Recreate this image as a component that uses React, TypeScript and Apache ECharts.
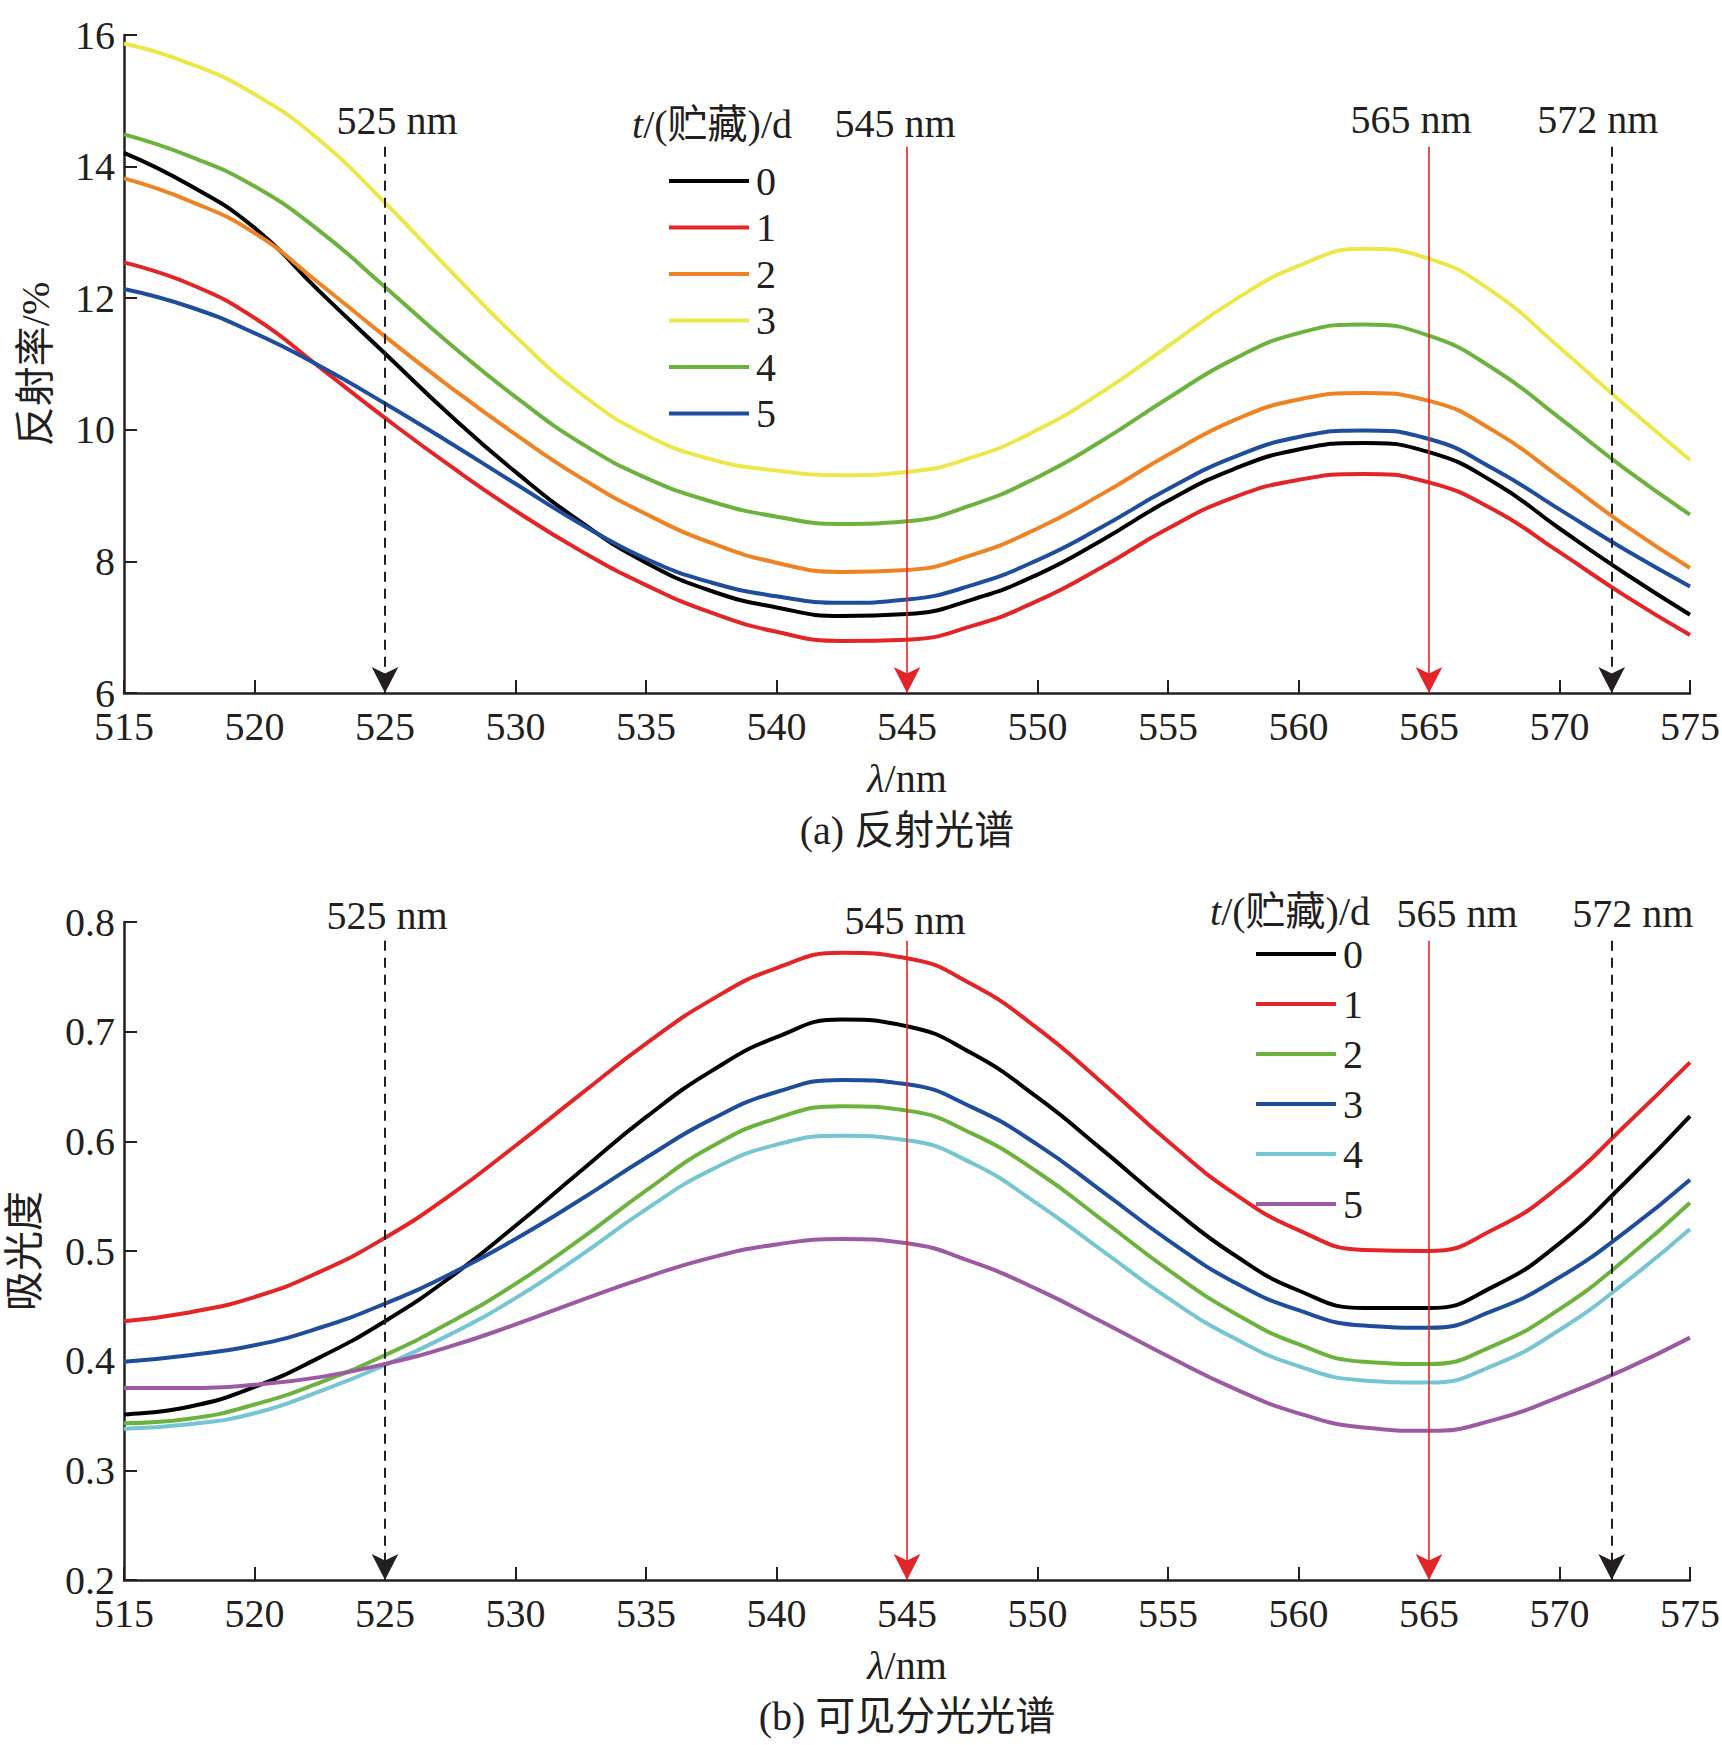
import { useEffect, useRef } from 'react';
import * as echarts from 'echarts';

// wavelength grid shared by both panels (nm)
const WAVELENGTHS = [
  515, 517.5, 520, 522.5, 525, 527.5, 530, 532.5, 535, 537.5, 540, 542.5, 545,
  547.5, 550, 552.5, 555, 557.5, 560, 562.5, 565, 567.5, 570, 572.5, 575,
];

// (a) reflectance, % — storage day 0..5
const REFLECT_D0 = [14.21, 13.72, 13.07, 12.1, 11.16, 10.22, 9.36, 8.6, 7.98, 7.55, 7.3, 7.17, 7.2, 7.42, 7.8, 8.33, 8.92, 9.4, 9.7, 9.8, 9.66, 9.2, 8.5, 7.82, 7.19];
const REFLECT_D1 = [12.54, 12.22, 11.7, 10.95, 10.18, 9.45, 8.77, 8.16, 7.64, 7.22, 6.93, 6.79, 6.81, 7.02, 7.4, 7.92, 8.5, 8.97, 9.24, 9.33, 9.2, 8.78, 8.14, 7.48, 6.88];
const REFLECT_D2 = [13.82, 13.48, 12.99, 12.22, 11.42, 10.65, 9.93, 9.27, 8.72, 8.28, 7.98, 7.84, 7.87, 8.1, 8.5, 9.03, 9.62, 10.14, 10.46, 10.56, 10.44, 9.98, 9.28, 8.55, 7.9];
const REFLECT_D3 = [15.87, 15.57, 15.1, 14.4, 13.45, 12.42, 11.42, 10.55, 9.92, 9.55, 9.38, 9.31, 9.36, 9.58, 10.0, 10.58, 11.27, 11.96, 12.49, 12.75, 12.6, 12.08, 11.25, 10.38, 9.54];
const REFLECT_D4 = [14.49, 14.16, 13.7, 13.02, 12.17, 11.3, 10.5, 9.8, 9.27, 8.91, 8.68, 8.57, 8.61, 8.86, 9.28, 9.84, 10.48, 11.07, 11.47, 11.6, 11.43, 10.92, 10.18, 9.41, 8.71];
const REFLECT_D5 = [12.14, 11.87, 11.47, 10.97, 10.4, 9.8, 9.18, 8.57, 8.04, 7.68, 7.47, 7.37, 7.42, 7.64, 8.02, 8.53, 9.1, 9.58, 9.89, 9.99, 9.86, 9.4, 8.79, 8.18, 7.62];

// (b) absorbance — storage day 0..5
const ABSORB_D0 = [0.351, 0.358, 0.376, 0.403, 0.436, 0.476, 0.523, 0.573, 0.622, 0.664, 0.695, 0.711, 0.705, 0.68, 0.64, 0.592, 0.542, 0.497, 0.464, 0.448, 0.448, 0.468, 0.507, 0.562, 0.623];
const ABSORB_D1 = [0.436, 0.444, 0.458, 0.481, 0.512, 0.551, 0.596, 0.643, 0.689, 0.729, 0.758, 0.772, 0.767, 0.743, 0.703, 0.653, 0.6, 0.553, 0.519, 0.501, 0.5, 0.52, 0.559, 0.614, 0.672];
const ABSORB_D2 = [0.343, 0.347, 0.36, 0.38, 0.405, 0.435, 0.47, 0.511, 0.555, 0.595, 0.621, 0.632, 0.628, 0.607, 0.572, 0.528, 0.483, 0.444, 0.415, 0.399, 0.397, 0.414, 0.447, 0.492, 0.544];
const ABSORB_D3 = [0.399, 0.405, 0.414, 0.43, 0.452, 0.479, 0.511, 0.547, 0.585, 0.62, 0.645, 0.656, 0.652, 0.631, 0.597, 0.554, 0.51, 0.472, 0.446, 0.432, 0.43, 0.446, 0.476, 0.517, 0.565];
const ABSORB_D4 = [0.338, 0.342, 0.352, 0.372, 0.396, 0.424, 0.457, 0.496, 0.538, 0.574, 0.597, 0.605, 0.601, 0.58, 0.543, 0.5, 0.457, 0.421, 0.395, 0.382, 0.38, 0.396, 0.428, 0.471, 0.52];
const ABSORB_D5 = [0.375, 0.375, 0.378, 0.385, 0.397, 0.413, 0.433, 0.455, 0.476, 0.494, 0.506, 0.511, 0.507, 0.49, 0.465, 0.435, 0.404, 0.375, 0.352, 0.339, 0.336, 0.346, 0.367, 0.392, 0.421];

const DAYS = ['0', '1', '2', '3', '4', '5'];
const REFLECT = [REFLECT_D0, REFLECT_D1, REFLECT_D2, REFLECT_D3, REFLECT_D4, REFLECT_D5];
const ABSORB = [ABSORB_D0, ABSORB_D1, ABSORB_D2, ABSORB_D3, ABSORB_D4, ABSORB_D5];
const REFLECT_COLORS = ['#000000', '#e42527', '#ef8222', '#ece84b', '#6cb33e', '#1f4d9d'];
const ABSORB_COLORS = ['#000000', '#e42527', '#6cb33e', '#1f4d9d', '#76c5d3', '#9c5aa3'];

// characteristic wavelengths marked with arrows
const MARK_NM = [525, 545, 565, 572];
const MARK_RED = [false, true, true, false];

const FONT = "'Liberation Serif', 'Times New Roman', 'Noto Sans CJK SC', serif";
const INK = '#231f20';
const RED = '#e42527';

const GRID_LEFT = 124;
const GRID_RIGHT = 32;
const GRID_H = 658;
const TOP_A = 35;
const TOP_B = 922;
const ARROW = [20, 26];

function toPairs(ys: number[]) {
  return WAVELENGTHS.map((x, i) => [x, ys[i]]);
}

function markLines(yStart: number, yEnd: number) {
  return MARK_NM.map((nm, i) => {
    const lineStyle = MARK_RED[i]
      ? { color: RED, width: 1.6, type: 'solid' }
      : { color: INK, width: 2, type: [10, 7] };
    return [
      { coord: [nm, yStart], lineStyle },
      { coord: [nm, yEnd], lineStyle },
    ];
  });
}

function xAxis(gridIndex: number) {
  return {
    type: 'value',
    gridIndex,
    min: 515,
    max: 575,
    interval: 5,
    name: '{i|λ}/nm',
    nameLocation: 'middle',
    nameGap: 65,
    nameTextStyle: {
      fontSize: 40,
      fontFamily: FONT,
      color: INK,
      rich: { i: { fontStyle: 'italic', fontSize: 40, fontFamily: FONT, color: INK } },
    },
    axisLine: { show: true, onZero: false, lineStyle: { color: INK, width: 2.5 } },
    axisTick: { show: true, inside: true, length: 13, lineStyle: { color: INK, width: 2 } },
    axisLabel: { fontSize: 40, fontFamily: FONT, color: INK, margin: 13 },
    splitLine: { show: false },
  };
}

export default function App() {
  const chartRef = useRef<HTMLDivElement>(null);

  useEffect(() => {
    if (!chartRef.current) return;
    document.body.style.margin = '0';
    const chart = echarts.init(chartRef.current, null, { renderer: 'svg' });

    const startA = 14.3;
    const startB = 0.783;

    const seriesA = REFLECT.map((ys, i) => ({
      name: 'a' + DAYS[i],
      type: 'line',
      xAxisIndex: 0,
      yAxisIndex: 0,
      data: toPairs(ys),
      smooth: true,
      showSymbol: false,
      color: REFLECT_COLORS[i],
      lineStyle: { width: 4, color: REFLECT_COLORS[i] },
      z: 3,
      ...(i === 0
        ? {
            markLine: {
              silent: true,
              animation: false,
              symbol: ['none', 'arrow'],
              symbolSize: ARROW,
              label: { show: false },
              data: markLines(startA, 6),
            },
          }
        : {}),
    }));

    const seriesB = ABSORB.map((ys, i) => ({
      name: 'b' + DAYS[i],
      type: 'line',
      xAxisIndex: 1,
      yAxisIndex: 1,
      data: toPairs(ys),
      smooth: true,
      showSymbol: false,
      color: ABSORB_COLORS[i],
      lineStyle: { width: 4, color: ABSORB_COLORS[i] },
      z: 3,
      ...(i === 0
        ? {
            markLine: {
              silent: true,
              animation: false,
              symbol: ['none', 'arrow'],
              symbolSize: ARROW,
              label: { show: false },
              data: markLines(startB, 0.2),
            },
          }
        : {}),
    }));

    const legendBase = {
      orient: 'vertical',
      itemWidth: 80,
      itemHeight: 4,
      icon: 'rect',
      selectedMode: false,
      formatter: (name: string) => name.slice(1),
      textStyle: { fontSize: 40, lineHeight: 40, fontFamily: FONT, color: INK, padding: [0, 0, 0, 2] },
    };

    const yLabel = { fontSize: 40, fontFamily: FONT, color: INK, margin: 9 };
    const yLine = { show: true, lineStyle: { color: INK, width: 2.5 } };
    const yTick = { show: true, inside: true, length: 13, lineStyle: { color: INK, width: 2 } };

    chart.setOption({
      animation: false,
      grid: [
        { left: GRID_LEFT, right: GRID_RIGHT, top: TOP_A, height: GRID_H, containLabel: false, outerBoundsMode: 'none' },
        { left: GRID_LEFT, right: GRID_RIGHT, top: TOP_B, height: GRID_H, containLabel: false, outerBoundsMode: 'none' },
      ],
      xAxis: [xAxis(0), xAxis(1)],
      yAxis: [
        {
          type: 'value',
          gridIndex: 0,
          min: 6,
          max: 16,
          interval: 2,
          name: '反射率/%',
          nameLocation: 'middle',
          nameGap: 69,
          nameRotate: 90,
          nameTextStyle: { fontSize: 40, fontFamily: FONT, color: INK },
          axisLine: yLine,
          axisTick: yTick,
          axisLabel: yLabel,
          splitLine: { show: false },
        },
        {
          type: 'value',
          gridIndex: 1,
          min: 0.2,
          max: 0.8,
          interval: 0.1,
          name: '吸光度',
          nameLocation: 'middle',
          nameGap: 80,
          nameRotate: 90,
          nameTextStyle: { fontSize: 40, fontFamily: FONT, color: INK },
          axisLine: yLine,
          axisTick: yTick,
          axisLabel: { ...yLabel, formatter: (v: number) => v.toFixed(1) },
          splitLine: { show: false },
        },
      ],
      legend: [
        { ...legendBase, left: 664, top: 156, itemGap: 6.5, data: seriesA.map((s) => s.name) },
        { ...legendBase, left: 1251, top: 929, itemGap: 10, data: seriesB.map((s) => s.name) },
      ],
      series: [...seriesA, ...seriesB],
    });

    // texts placed relative to the axes: wavelength tags above the arrows, legend headers, captions
    const textStyle = (text: string) => ({
      text,
      fontSize: 40,
      fontFamily: FONT,
      fill: INK,
      align: 'center',
      verticalAlign: 'middle',
      rich: { i: { fontStyle: 'italic', fontSize: 40, fontFamily: FONT, fill: INK } },
    });
    const tagShiftA = [[12, -26], [-12, -23], [-18, -27], [-14, -27]];
    const tagShiftB = [[2, -25], [-2, -20], [28, -27], [21, -27]];
    const tags: any[] = [];
    MARK_NM.forEach((nm, i) => {
      const pa = chart.convertToPixel({ gridIndex: 0 }, [nm, startA]) as number[];
      const pb = chart.convertToPixel({ gridIndex: 1 }, [nm, startB]) as number[];
      tags.push({ type: 'text', x: pa[0] + tagShiftA[i][0], y: pa[1] + tagShiftA[i][1], style: textStyle(nm + ' nm') });
      tags.push({ type: 'text', x: pb[0] + tagShiftB[i][0], y: pb[1] + tagShiftB[i][1], style: textStyle(nm + ' nm') });
    });
    const mid = (GRID_LEFT + 1722 - GRID_RIGHT) / 2;
    chart.setOption({
      graphic: [
        ...tags,
        { type: 'text', x: 712, y: 124, style: textStyle('{i|t}/(贮藏)/d') },
        { type: 'text', x: 1290, y: 911, style: textStyle('{i|t}/(贮藏)/d') },
        { type: 'text', x: mid, y: 830, style: textStyle('(a) 反射光谱') },
        { type: 'text', x: mid, y: 1716, style: textStyle('(b) 可见分光光谱') },
      ],
    });

    return () => {
      chart.dispose();
    };
  }, []);

  return <div ref={chartRef} style={{ width: '1722px', height: '1745px' }} />;
}
